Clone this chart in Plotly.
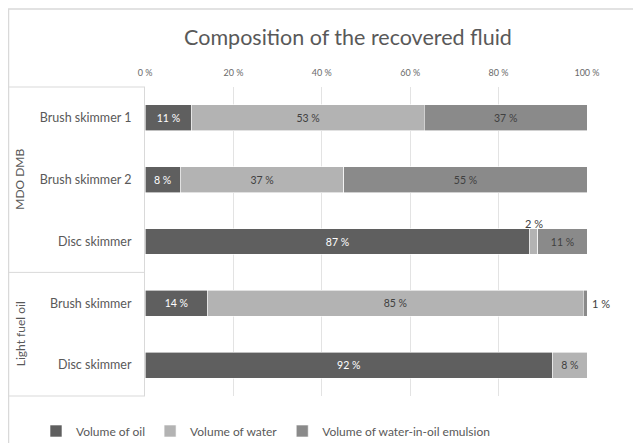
import plotly.graph_objects as go

categories = ["Brush skimmer 1", "Brush skimmer 2", "Disc skimmer", "Brush skimmer", "Disc skimmer"]
category_keys = ["mdo_bs1", "mdo_bs2", "mdo_disc", "lfo_bs", "lfo_disc"]
groups = ["MDO DMB", "Light fuel oil"]
group_sizes = [3, 2]

oil = [10.6, 8.0, 87.1, 14.2, 92.2]
water = [52.6, 37.0, 1.8, 84.9, 7.8]
emulsion = [36.8, 55.0, 11.1, 0.9, 0.0]

series_names = ["Volume of oil", "Volume of water", "Volume of water-in-oil emulsion"]
colors = ["#5f5f5f", "#b3b3b3", "#8a8a8a"]
text_colors = ["#ffffff", "#404040", "#404040"]
x_ticks = [0, 20, 40, 60, 80, 100]
x_tick_labels = [f"{t} %" for t in x_ticks]

FONT = "Lato, 'Open Sans', sans-serif"
W, H = 633, 435  # page body has an 8px offset inside the 641x443 window
L, R, T, B = 137, 54, 79, 47
PW, PH = W - L - R, H - T - B

fig = go.Figure()

series = [oil, water, emulsion]
for i, (name, vals) in enumerate(zip(series_names, series)):
    texts = [f"{round(v)} %" if v >= 3 else "" for v in vals]
    fig.add_trace(go.Bar(
        name=name, y=category_keys, x=vals, orientation="h",
        marker=dict(color=colors[i], line=dict(color="#ffffff", width=0.6)),
        text=texts, textposition="inside", insidetextanchor="middle",
        insidetextfont=dict(color=text_colors[i], size=10.5, family=FONT),
    ))

# small segment labels placed outside their bars
for k, o, w, e in zip(category_keys, oil, water, emulsion):
    if 0 < w < 3:
        fig.add_annotation(x=round(o + w / 2, 6), y=k, text=f"{round(w)} %", showarrow=False,
                           yshift=18, font=dict(size=11, color="#404040", family=FONT))
    if 0 < e < 3:
        fig.add_annotation(x=min(round(o + w + e, 6), 100), y=k, text=f"{round(e)} %", showarrow=False,
                           xanchor="left", xshift=3, font=dict(size=11, color="#404040", family=FONT))

# group labels and separators
n = len(categories)
x_left = -L / PW
start = 0
fig.add_shape(type="line", xref="paper", yref="paper", x0=x_left, x1=0, y0=1, y1=1,
              line=dict(color="#d9d9d9", width=1))
for g, s in zip(groups, group_sizes):
    center = 1 - (start + s / 2) / n
    fig.add_annotation(xref="paper", yref="paper", x=(12 - L) / PW, y=center, text=g, textangle=-90,
                       xanchor="center", yanchor="middle",
                       showarrow=False, font=dict(size=12, color="#595959", family=FONT))
    start += s
    yb = 1 - start / n
    fig.add_shape(type="line", xref="paper", yref="paper", x0=x_left, x1=0, y0=yb, y1=yb,
                  line=dict(color="#d9d9d9", width=1))

# chart border (top and left)
y_top = (PH + T - 1) / PH
fig.add_shape(type="line", xref="paper", yref="paper", x0=x_left, x1=(W - L) / PW, y0=y_top, y1=y_top,
              line=dict(color="#d9d9d9", width=1.5))
fig.add_shape(type="line", xref="paper", yref="paper", x0=x_left + 0.5 / PW, x1=x_left + 0.5 / PW,
              y0=y_top, y1=-B / PH, line=dict(color="#d9d9d9", width=1.5))

fig.update_layout(
    width=W, height=H, barmode="stack", bargap=0.58,
    margin=dict(l=L, r=R, t=T, b=B, autoexpand=False),
    paper_bgcolor="#ffffff", plot_bgcolor="#ffffff",
    font=dict(family=FONT, color="#595959"),
    title=dict(text="Composition of the recovered fluid", x=(348 - 8) / W, xanchor="center",
               y=1 - 29 / H, yanchor="middle", yref="container",
               font=dict(size=21.5, color="#595959", family=FONT)),
    xaxis=dict(side="top", range=[0, 100], tickvals=x_ticks, ticktext=x_tick_labels,
               showgrid=True, gridcolor="#e3e3e3", gridwidth=1, zeroline=False, automargin=False,
               tickfont=dict(size=9, color="#6a6a6a"), ticklabelstandoff=8, showline=False),
    yaxis=dict(categoryorder="array", categoryarray=category_keys, autorange="reversed",
               tickvals=category_keys, ticktext=categories, showline=True, linecolor="#d9d9d9",
               automargin=False,
               tickfont=dict(size=12.5, color="#595959"), ticklabelstandoff=10, showgrid=False),
    legend=dict(orientation="h", xref="paper", x=(28 - L) / PW, xanchor="left",
                yref="paper", y=(PH - (423 - T)) / PH, yanchor="middle", itemwidth=30,
                font=dict(size=12, color="#595959"), traceorder="normal"),
)

fig.write_html("out.html")
